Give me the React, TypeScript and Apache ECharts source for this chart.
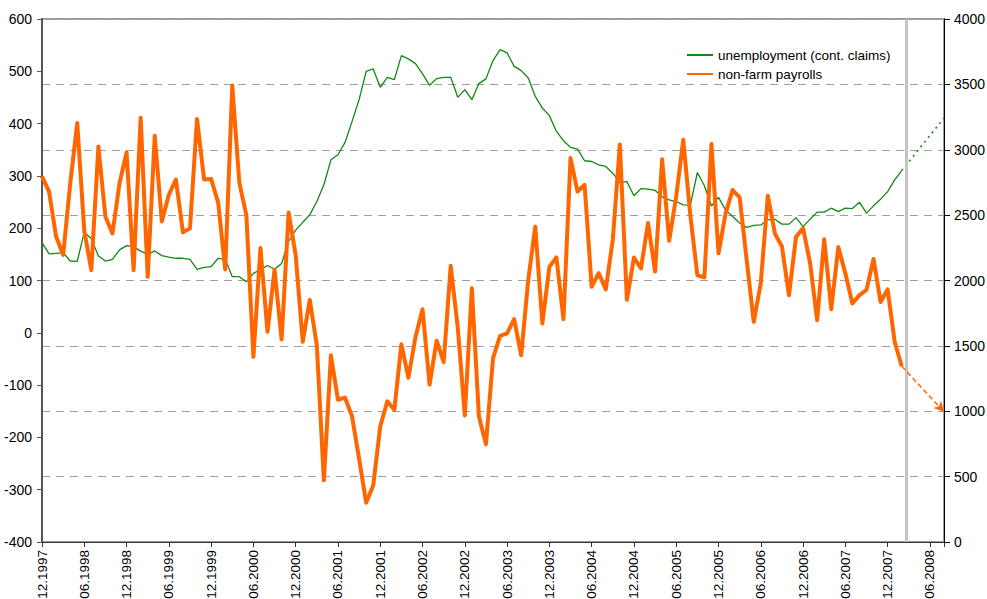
import React, { useEffect, useRef } from "react";
import * as echarts from "echarts";

const xLabels = [
  "12.1997", "06.1998", "12.1998", "06.1999", "12.1999", "06.2000", "12.2000", "06.2001",
  "12.2001", "06.2002", "12.2002", "06.2003", "12.2003", "06.2004", "12.2004", "06.2005",
  "12.2005", "06.2006", "12.2006", "06.2007", "12.2007", "06.2008",
];

// non-farm payrolls (thousands, left axis), monthly from 12.1997
const payrolls = [
  299, 270, 184, 149, 285, 401, 195, 120, 356, 222, 190, 286, 345, 120, 411, 107,
  377, 213, 264, 293, 192, 200, 409, 293, 294, 249, 121, 473, 287, 225, -46, 162,
  2, 121, -13, 230, 148, -17, 63, -24, -282, -43, -128, -124, -160, -241, -325, -292,
  -179, -131, -147, -22, -86, -8, 45, -99, -15, -56, 128, 10, -158, 85, -160, -213,
  -49, -6, -1, 26, -43, 101, 203, 18, 126, 144, 26, 334, 270, 283, 88, 114,
  83, 178, 360, 63, 144, 123, 210, 117, 332, 176, 261, 369, 225, 110, 106, 361,
  152, 228, 273, 259, 139, 21, 95, 262, 190, 165, 72, 183, 200, 133, 24, 179,
  45, 164, 114, 56, 72, 82, 141, 59, 83, -17, -64,
];

// continuing claims (thousands, right axis), monthly from 12.1997
const claims = [
  2290, 2203, 2208, 2213, 2149, 2147, 2370, 2320, 2188, 2149, 2162, 2234, 2267, 2259, 2225, 2200,
  2226, 2190, 2178, 2170, 2170, 2162, 2086, 2101, 2106, 2170, 2162, 2029, 2029, 1990, 2055, 2083,
  2115, 2086, 2130, 2300, 2385, 2445, 2502, 2604, 2732, 2923, 2962, 3056, 3217, 3383, 3600, 3618,
  3478, 3554, 3536, 3720, 3695, 3659, 3580, 3493, 3544, 3554, 3554, 3401, 3460, 3383, 3506, 3542,
  3682, 3766, 3741, 3638, 3605, 3549, 3408, 3319, 3261, 3140, 3069, 3018, 3005, 2916, 2910, 2885,
  2872, 2821, 2750, 2757, 2648, 2703, 2699, 2690, 2640, 2617, 2604, 2579, 2576, 2826, 2725, 2570,
  2636, 2540, 2490, 2440, 2406, 2422, 2425, 2464, 2469, 2431, 2431, 2481, 2412, 2469, 2523, 2523,
  2553, 2527, 2553, 2550, 2599, 2515, 2571, 2622, 2680, 2770, 2841,
];

// projections
const claimsProjection = [[122, 2841], [128, 3243]];
const payrollsProjection = [[122, -64], [128, -151]];
const forecastStart = 122.7;

const FONT = "'Liberation Sans', Arial, sans-serif";

export default function App() {
  const ref = useRef<HTMLDivElement>(null);
  useEffect(() => {
    if (!ref.current) return;
    const chart = echarts.init(ref.current, undefined, { renderer: "svg" });
    chart.setOption({
      animation: false,
      textStyle: { fontFamily: FONT },
      grid: {
        left: 42, right: 43, top: 19, bottom: 57,
        containLabel: false,
        outerBoundsMode: "none",
        show: true, borderColor: "#9a9a9a", borderWidth: 2, backgroundColor: "transparent",
      },
      legend: {
        data: ["unemployment (cont. claims)", "non-farm payrolls"],
        orient: "vertical",
        left: 681,
        top: 43,
        itemWidth: 26,
        itemHeight: 14,
        itemGap: 5,
        itemStyle: { opacity: 0 },
        textStyle: { fontSize: 13.5, color: "#000", fontFamily: FONT },
      },
      xAxis: {
        type: "value",
        min: 0,
        max: 128,
        interval: 6,
        axisLine: { onZero: false, lineStyle: { color: "#333", width: 1 } },
        axisTick: { show: true, length: 5, lineStyle: { color: "#333" } },
        axisLabel: {
          rotate: 90,
          fontSize: 13.5,
          color: "#000",
          margin: 8,
          fontFamily: FONT,
          formatter: (v: number) => (v % 6 === 0 && xLabels[v / 6] ? xLabels[v / 6] : ""),
        },
        splitLine: { show: false },
      },
      yAxis: [
        {
          type: "value", min: -400, max: 600, interval: 100, position: "left",
          axisLine: { show: true, onZero: false, lineStyle: { color: "#555", width: 2 } },
          axisTick: { show: true, length: 5, lineStyle: { color: "#555" } },
          axisLabel: { fontSize: 14, color: "#000", margin: 10, fontFamily: FONT },
          splitLine: { show: false },
        },
        {
          type: "value", min: 0, max: 4000, interval: 500, position: "right",
          axisLine: { show: true, onZero: false, lineStyle: { color: "#000", width: 1 } },
          axisTick: { show: true, length: 6, lineStyle: { color: "#000" } },
          axisLabel: {
            fontSize: 14, color: "#000", margin: 10, fontFamily: FONT,
            formatter: (v: number) => String(v),
          },
          splitLine: { show: true, lineStyle: { color: "#a0a0a0", width: 1, type: [8, 6] } },
        },
      ],
      series: [
        {
          name: "unemployment (cont. claims)",
          type: "line",
          yAxisIndex: 1,
          data: claims.map((v, i) => [i, v]),
          symbol: "none",
          lineStyle: { color: "#108a10", width: 1.3 },
          itemStyle: { color: "#108a10" },
          z: 2,
          markLine: {
            silent: true,
            symbol: "none",
            label: { show: false },
            lineStyle: { color: "#c4c4c4", width: 3, type: "solid" },
            data: [{ xAxis: forecastStart }],
          },
        },
        {
          name: "non-farm payrolls",
          type: "line",
          yAxisIndex: 0,
          data: payrolls.map((v, i) => [i, v]),
          symbol: "none",
          lineStyle: { color: "#ff6600", width: 4, join: "round" },
          itemStyle: { color: "#ff6600" },
          z: 3,
        },
        {
          name: "claimsProjection",
          type: "line",
          yAxisIndex: 1,
          data: claimsProjection,
          symbol: "none",
          lineStyle: { color: "#108a10", width: 1.6, type: [2, 4] },
          z: 2,
        },
        {
          name: "payrollsProjection",
          type: "line",
          yAxisIndex: 0,
          data: [],
          symbol: "none",
          z: 3,
          markLine: {
            silent: true,
            symbol: ["none", "arrow"],
            symbolSize: [8, 10],
            label: { show: false },
            lineStyle: { color: "#ff6600", width: 1.5, type: [5, 3] },
            data: [[{ coord: payrollsProjection[0] }, { coord: payrollsProjection[1] }]],
          },
        },
      ],
    });
    return () => chart.dispose();
  }, []);
  return (
    <div
      ref={ref}
      style={{ position: "absolute", left: 0, top: 0, width: 987, height: 599, background: "#fff" }}
    />
  );
}
